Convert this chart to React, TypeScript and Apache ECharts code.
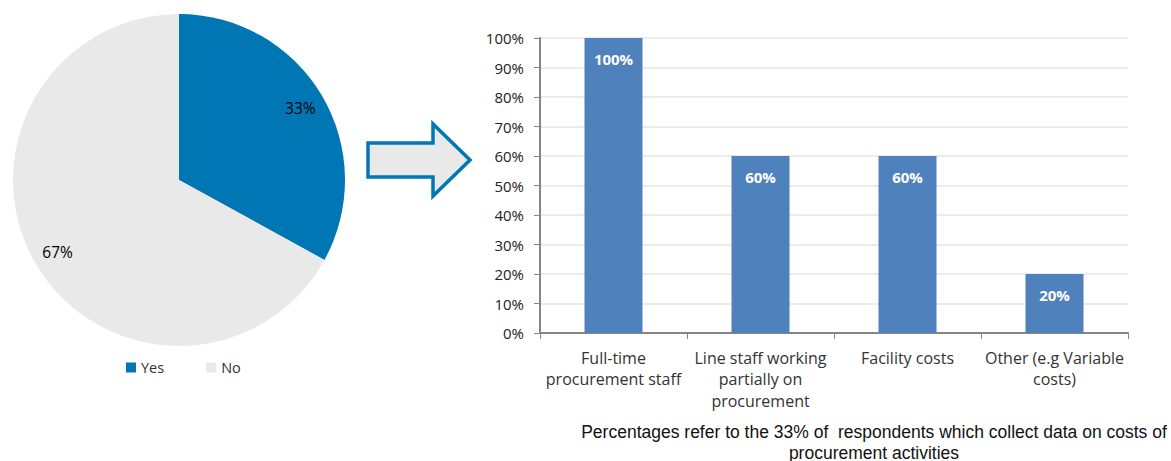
import React, { useEffect, useRef } from "react";
import * as echarts from "echarts";

const pieNames = ["Yes", "No"];
const pieValues = [33, 67];
const barCategories = [
  "Full-time\nprocurement staff",
  "Line staff working\npartially on\nprocurement",
  "Facility costs",
  "Other (e.g Variable\ncosts)",
];
const barValues = [100, 60, 60, 20];
const noteText =
  "Percentages refer to the 33% of  respondents which collect data on costs of\nprocurement activities";

const FONT = "'Open Sans', Lato, sans-serif";

export default function App() {
  const ref = useRef<HTMLDivElement>(null);
  useEffect(() => {
    if (!ref.current) return;
    const chart = echarts.init(ref.current, undefined, { renderer: "svg" });
    const pieData = pieNames.map((n, i) => ({ name: n, value: pieValues[i] }));
    chart.setOption({
      animation: false,
      textStyle: { fontFamily: FONT },
      legend: {
        data: pieNames,
        left: 121,
        top: 355,
        icon: "rect",
        itemWidth: 10,
        itemHeight: 10,
        itemGap: 42,
        textStyle: { fontSize: 14.5, color: "#333", fontFamily: FONT },
      },
      grid: { left: 540, top: 38, right: 43, bottom: 128, containLabel: false },
      xAxis: {
        type: "category",
        data: barCategories,
        axisLine: { lineStyle: { color: "#868686", width: 2 } },
        axisTick: { show: true, length: 6, lineStyle: { color: "#868686" } },
        axisLabel: {
          color: "#333",
          fontSize: 16,
          lineHeight: 21.5,
          margin: 14,
          interval: 0,
          fontFamily: FONT,
        },
      },
      yAxis: {
        type: "value",
        min: 0,
        max: 100,
        interval: 10,
        axisLine: { show: true, lineStyle: { color: "#868686", width: 2 } },
        axisTick: { show: true, length: 6, lineStyle: { color: "#868686" } },
        axisLabel: {
          formatter: "{value}%",
          color: "#222",
          fontSize: 15,
          margin: 16,
          fontFamily: FONT,
        },
        splitLine: { lineStyle: { color: "#e4e4e4", width: 1.5 } },
      },
      series: [
        {
          type: "pie",
          center: [179, 180],
          radius: [0, 166],
          startAngle: 90,
          clockwise: true,
          data: pieData,
          label: { show: false },
          labelLine: { show: false },
          itemStyle: {
            color: (p: any) => (p.dataIndex === 0 ? "#0077b4" : "#e9e9e9"),
          },
          emphasis: { disabled: true },
        },
        {
          type: "pie",
          center: [179, 180],
          radius: [110, 166],
          startAngle: 90,
          clockwise: true,
          data: pieData,
          silent: true,
          itemStyle: { color: "rgba(0,0,0,0)" },
          label: {
            show: true,
            position: "inside",
            formatter: "{c}%",
            fontSize: 15.5,
            fontFamily: FONT,
            color: (p: any) => (p.dataIndex === 0 ? "#fff" : "#222"),
          },
          labelLine: { show: false },
          emphasis: { disabled: true },
        },
        {
          type: "bar",
          data: barValues,
          barWidth: 58,
          itemStyle: { color: "#4f81bd" },
          label: {
            show: true,
            position: "insideTop",
            distance: 13,
            formatter: "{c}%",
            color: "#fff",
            fontWeight: "bold",
            fontSize: 15,
            fontFamily: FONT,
          },
        },
      ],
      graphic: [
        {
          type: "polygon",
          shape: {
            points: [
              [368, 143],
              [433, 143],
              [433, 124],
              [470, 160],
              [433, 196],
              [433, 177],
              [368, 177],
            ],
          },
          style: { fill: "#e9e9e9", stroke: "#0077b4", lineWidth: 3.5 },
        },
        {
          type: "text",
          x: 874,
          y: 442,
          style: {
            text: noteText,
            fontSize: 17.5,
            lineHeight: 21,
            fontFamily: "'Liberation Sans', Arial, sans-serif",
            fill: "#111",
            align: "center",
            verticalAlign: "middle",
          },
        },
      ],
    });
    return () => chart.dispose();
  }, []);
  return (
    <div
      ref={ref}
      style={{ position: "fixed", left: 0, top: 0, width: 1171, height: 461, background: "#fff" }}
    />
  );
}
